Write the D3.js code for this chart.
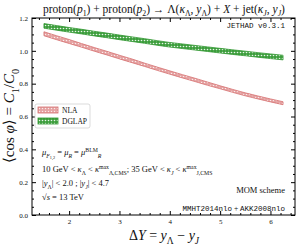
<!DOCTYPE html>
<html>
<head>
<meta charset="utf-8">
<script src="https://cdn.jsdelivr.net/npm/d3@7"></script>
<style>
  body { margin: 0; background: #fff; }
  svg { display: block; }
  text { font-family: 'Liberation Serif', 'DejaVu Serif', serif; fill: #111; }
  .mono { font-family: 'Liberation Mono', 'DejaVu Sans Mono', monospace; }
</style>
</head>
<body>
<div id="chart"></div>
<script>
// rapidity separation values
const deltaY = [1.5, 1.75, 2.0, 2.25, 2.5, 2.75, 3.0, 3.25, 3.5, 3.75, 4.0, 4.25, 4.5, 4.75, 5.0, 5.25, 5.5, 5.75, 6.0, 6.25];
const nlaValues = [1.104, 1.080, 1.057, 1.033, 1.009, 0.986, 0.962, 0.939, 0.915, 0.891, 0.868, 0.845, 0.823, 0.800, 0.778, 0.756, 0.735, 0.716, 0.698, 0.681];
const nlaUncert = [0.012, 0.012, 0.012, 0.011, 0.011, 0.011, 0.011, 0.011, 0.010, 0.010, 0.010, 0.010, 0.010, 0.010, 0.009, 0.009, 0.009, 0.009, 0.009, 0.009];
const dglapValues = [1.152, 1.140, 1.128, 1.117, 1.105, 1.094, 1.082, 1.071, 1.060, 1.048, 1.037, 1.028, 1.019, 1.010, 1.001, 0.992, 0.984, 0.975, 0.967, 0.959];
const dglapUncert = [0.014, 0.014, 0.014, 0.014, 0.014, 0.014, 0.014, 0.014, 0.014, 0.014, 0.014, 0.014, 0.014, 0.014, 0.014, 0.014, 0.014, 0.014, 0.014, 0.014];
const seriesNames = ['NLA', 'DGLAP'];
const xTicks = [2, 3, 4, 5, 6];
const yTicks = [0.0, 0.2, 0.4, 0.6, 0.8, 1.0, 1.2];

const W = 303, H = 246;
const margin = { left: 32, right: 8, top: 18, bottom: 31 };
const width = W - margin.left - margin.right;
const height = H - margin.top - margin.bottom;

const svg = d3.select('#chart').append('svg')
  .attr('width', W)
  .attr('height', H);

const defs = svg.append('defs');

// hatch patterns
const pRed = defs.append('pattern')
  .attr('id', 'hatchRed')
  .attr('patternUnits', 'userSpaceOnUse')
  .attr('width', 3).attr('height', 3);
pRed.append('rect').attr('width', 3).attr('height', 3).attr('fill', '#e5a3a3');
pRed.append('circle').attr('cx', 1.5).attr('cy', 1.5).attr('r', 0.7).attr('fill', '#fbeaea');

const pGreen = defs.append('pattern')
  .attr('id', 'hatchGreen')
  .attr('patternUnits', 'userSpaceOnUse')
  .attr('width', 3).attr('height', 3);
pGreen.append('rect').attr('width', 3).attr('height', 3).attr('fill', '#3d9e3d');
pGreen.append('circle').attr('cx', 1.5).attr('cy', 1.5).attr('r', 0.8).attr('fill', '#e8f5e8');

const g = svg.append('g')
  .attr('transform', `translate(${margin.left}, ${margin.top})`);

const x = d3.scaleLinear()
  .domain([1.2625, 6.4875])
  .range([0, width]);

const y = d3.scaleLinear()
  .domain([0, 1.2])
  .range([height, 0]);

// bands
const band = (vals, errs) => d3.area()
  .x((d, i) => x(deltaY[i]))
  .y0((d, i) => y(vals[i] - errs[i]))
  .y1((d, i) => y(vals[i] + errs[i]))
  .curve(d3.curveMonotoneX);

g.append('path')
  .datum(deltaY)
  .attr('d', band(nlaValues, nlaUncert))
  .attr('fill', 'url(#hatchRed)')
  .attr('stroke', '#d56e6e')
  .attr('stroke-width', 0.8);

g.append('path')
  .datum(deltaY)
  .attr('d', band(dglapValues, dglapUncert))
  .attr('fill', 'url(#hatchGreen)')
  .attr('stroke', '#2f962f')
  .attr('stroke-width', 0.8);

// axes, ticks pointing inward on all sides
const tickFont = (sel) => sel.selectAll('text')
  .style('font-family', "'Liberation Serif', serif")
  .style('font-size', '7px')
  .attr('fill', '#222');

const xMinor = d3.range(1.4, 6.45, 0.2).filter((v) => Math.abs(v - Math.round(v)) > 1e-6);
const yMinor = d3.range(0.05, 1.2, 0.05).filter((v) => Math.abs(v * 5 - Math.round(v * 5)) > 1e-6);

g.append('g')
  .attr('transform', `translate(0, ${height})`)
  .call(d3.axisBottom(x).tickValues(xTicks).tickFormat(d3.format('d'))
    .tickSizeInner(-4).tickSizeOuter(0).tickPadding(4))
  .call(tickFont)
  .call((s) => s.select('.domain').remove());

g.append('g')
  .attr('transform', `translate(0, ${height})`)
  .call(d3.axisBottom(x).tickValues(xMinor).tickFormat('').tickSizeInner(-2).tickSizeOuter(0))
  .call((s) => s.select('.domain').remove());

g.append('g')
  .call(d3.axisTop(x).tickValues(xTicks).tickFormat('').tickSizeInner(-4).tickSizeOuter(0))
  .call((s) => s.select('.domain').remove());

g.append('g')
  .call(d3.axisTop(x).tickValues(xMinor).tickFormat('').tickSizeInner(-2).tickSizeOuter(0))
  .call((s) => s.select('.domain').remove());

g.append('g')
  .call(d3.axisLeft(y).tickValues(yTicks).tickFormat(d3.format('.1f'))
    .tickSizeInner(-4).tickSizeOuter(0).tickPadding(4))
  .call(tickFont)
  .call((s) => s.select('.domain').remove());

g.append('g')
  .call(d3.axisLeft(y).tickValues(yMinor).tickFormat('').tickSizeInner(-2).tickSizeOuter(0))
  .call((s) => s.select('.domain').remove());

g.append('g')
  .attr('transform', `translate(${width}, 0)`)
  .call(d3.axisRight(y).tickValues(yTicks).tickFormat('').tickSizeInner(-4).tickSizeOuter(0))
  .call((s) => s.select('.domain').remove());

g.append('g')
  .attr('transform', `translate(${width}, 0)`)
  .call(d3.axisRight(y).tickValues(yMinor).tickFormat('').tickSizeInner(-2).tickSizeOuter(0))
  .call((s) => s.select('.domain').remove());

g.append('rect')
  .attr('width', width)
  .attr('height', height)
  .attr('fill', 'none')
  .attr('stroke', '#000')
  .attr('stroke-width', 1);

// rich text helper: segments [text, flags] with i = italic, b = sub, p = sup
function rich(parent, xPos, yPos, segs, size, anchor) {
  const t = parent.append('text')
    .attr('x', xPos)
    .attr('y', yPos)
    .attr('text-anchor', anchor || 'start')
    .style('font-size', size + 'px');
  let shift = 0;
  segs.forEach(([txt, f = '']) => {
    let target = 0;
    let fs = size;
    if (f.includes('b')) { target = size * 0.3; fs = size * 0.68; }
    if (f.includes('p')) { target = -size * 0.38; fs = size * 0.68; }
    if (f.includes('bb')) { target = size * 0.45; fs = size * 0.5; }
    const ts = t.append('tspan')
      .attr('dy', target - shift)
      .style('font-size', fs + 'px')
      .text(txt);
    if (f.includes('i')) ts.style('font-style', 'italic');
    if (f.includes('m')) ts.attr('class', 'mono');
    shift = target;
  });
  return t;
}

// title
rich(svg, 164, 13, [
  ['proton('], ['p', 'i'], ['1', 'b'], [') + proton('], ['p', 'i'], ['2', 'b'],
  [') → Λ('], ['κ', 'i'], ['Λ', 'b'], [', '], ['y', 'i'], ['Λ', 'b'],
  [') + '], ['X', 'i'], [' + jet('], ['κ', 'i'], ['J', 'bi'], [', '], ['y', 'i'], ['J', 'bi'], [')']
], 11.5, 'middle');

// axis labels
rich(svg, 164, 240, [
  ['Δ'], ['Y', 'i'], [' = '], ['y', 'i'], ['Λ', 'b'], [' − '], ['y', 'i'], ['J', 'bi']
], 14, 'middle');

const yl = svg.append('g').attr('transform', 'translate(14, 116) rotate(-90)');
rich(yl, 0, 0, [
  ['⟨cos '], ['φ', 'i'], ['⟩ = '], ['C', 'i'], ['1', 'b'], ['/'], ['C', 'i'], ['0', 'b']
], 15, 'middle');

// watermark
svg.append('text')
  .attr('class', 'mono')
  .attr('x', 285)
  .attr('y', 28)
  .attr('text-anchor', 'end')
  .style('font-size', '7.5px')
  .attr('fill', '#999')
  .text('JETHAD v0.3.1');

// legend
const legend = svg.append('g').attr('transform', 'translate(35, 104)');
legend.append('rect')
  .attr('width', 55).attr('height', 24).attr('rx', 2)
  .attr('fill', '#fff').attr('stroke', '#ccc').attr('stroke-width', 0.7);
const fills = ['url(#hatchRed)', 'url(#hatchGreen)'];
const strokes = ['#d56e6e', '#2f962f'];
legend.selectAll('.patch')
  .data(seriesNames)
  .enter()
  .append('rect')
  .attr('x', 3)
  .attr('y', (d, i) => 3 + i * 11)
  .attr('width', 20)
  .attr('height', 6)
  .attr('fill', (d, i) => fills[i])
  .attr('stroke', (d, i) => strokes[i])
  .attr('stroke-width', 0.8);
legend.selectAll('.lab')
  .data(seriesNames)
  .enter()
  .append('text')
  .attr('x', 27)
  .attr('y', (d, i) => 9 + i * 11)
  .style('font-size', '7.5px')
  .text((d) => d);

// annotations
const fs = 8.5;
rich(svg, 42, 155, [
  ['μ', 'i'], ['F', 'bi'], ['1,2', 'bb'], [' = '], ['μ', 'i'], ['R', 'bi'], [' = '], ['μ', 'i'], ['BLM', 'p'], ['R', 'bi']
], fs);
rich(svg, 42, 172, [
  ['10 GeV < '], ['κ', 'i'], ['Λ', 'b'], [' < '], ['κ', 'i'], ['max', 'p'], ['Λ,CMS', 'b'],
  ['; 35 GeV < '], ['κ', 'i'], ['J', 'bi'], [' < '], ['κ', 'i'], ['max', 'p'], ['J,CMS', 'b']
], fs);
rich(svg, 42, 186, [
  ['|'], ['y', 'i'], ['Λ', 'b'], ['| < 2.0 ;  |'], ['y', 'i'], ['J', 'bi'], ['| < 4.7']
], fs);
rich(svg, 42, 200, [['√'], ['s', 'i'], [' = 13 TeV']], fs);

svg.append('text')
  .attr('x', 285).attr('y', 193)
  .attr('text-anchor', 'end')
  .style('font-size', fs + 'px')
  .text('MOM scheme');

rich(svg, 285, 211, [['MMHT2014nlo', 'm'], [' + '], ['AKK2008nlo', 'm']], 7.5, 'end');
</script>
</body>
</html>
